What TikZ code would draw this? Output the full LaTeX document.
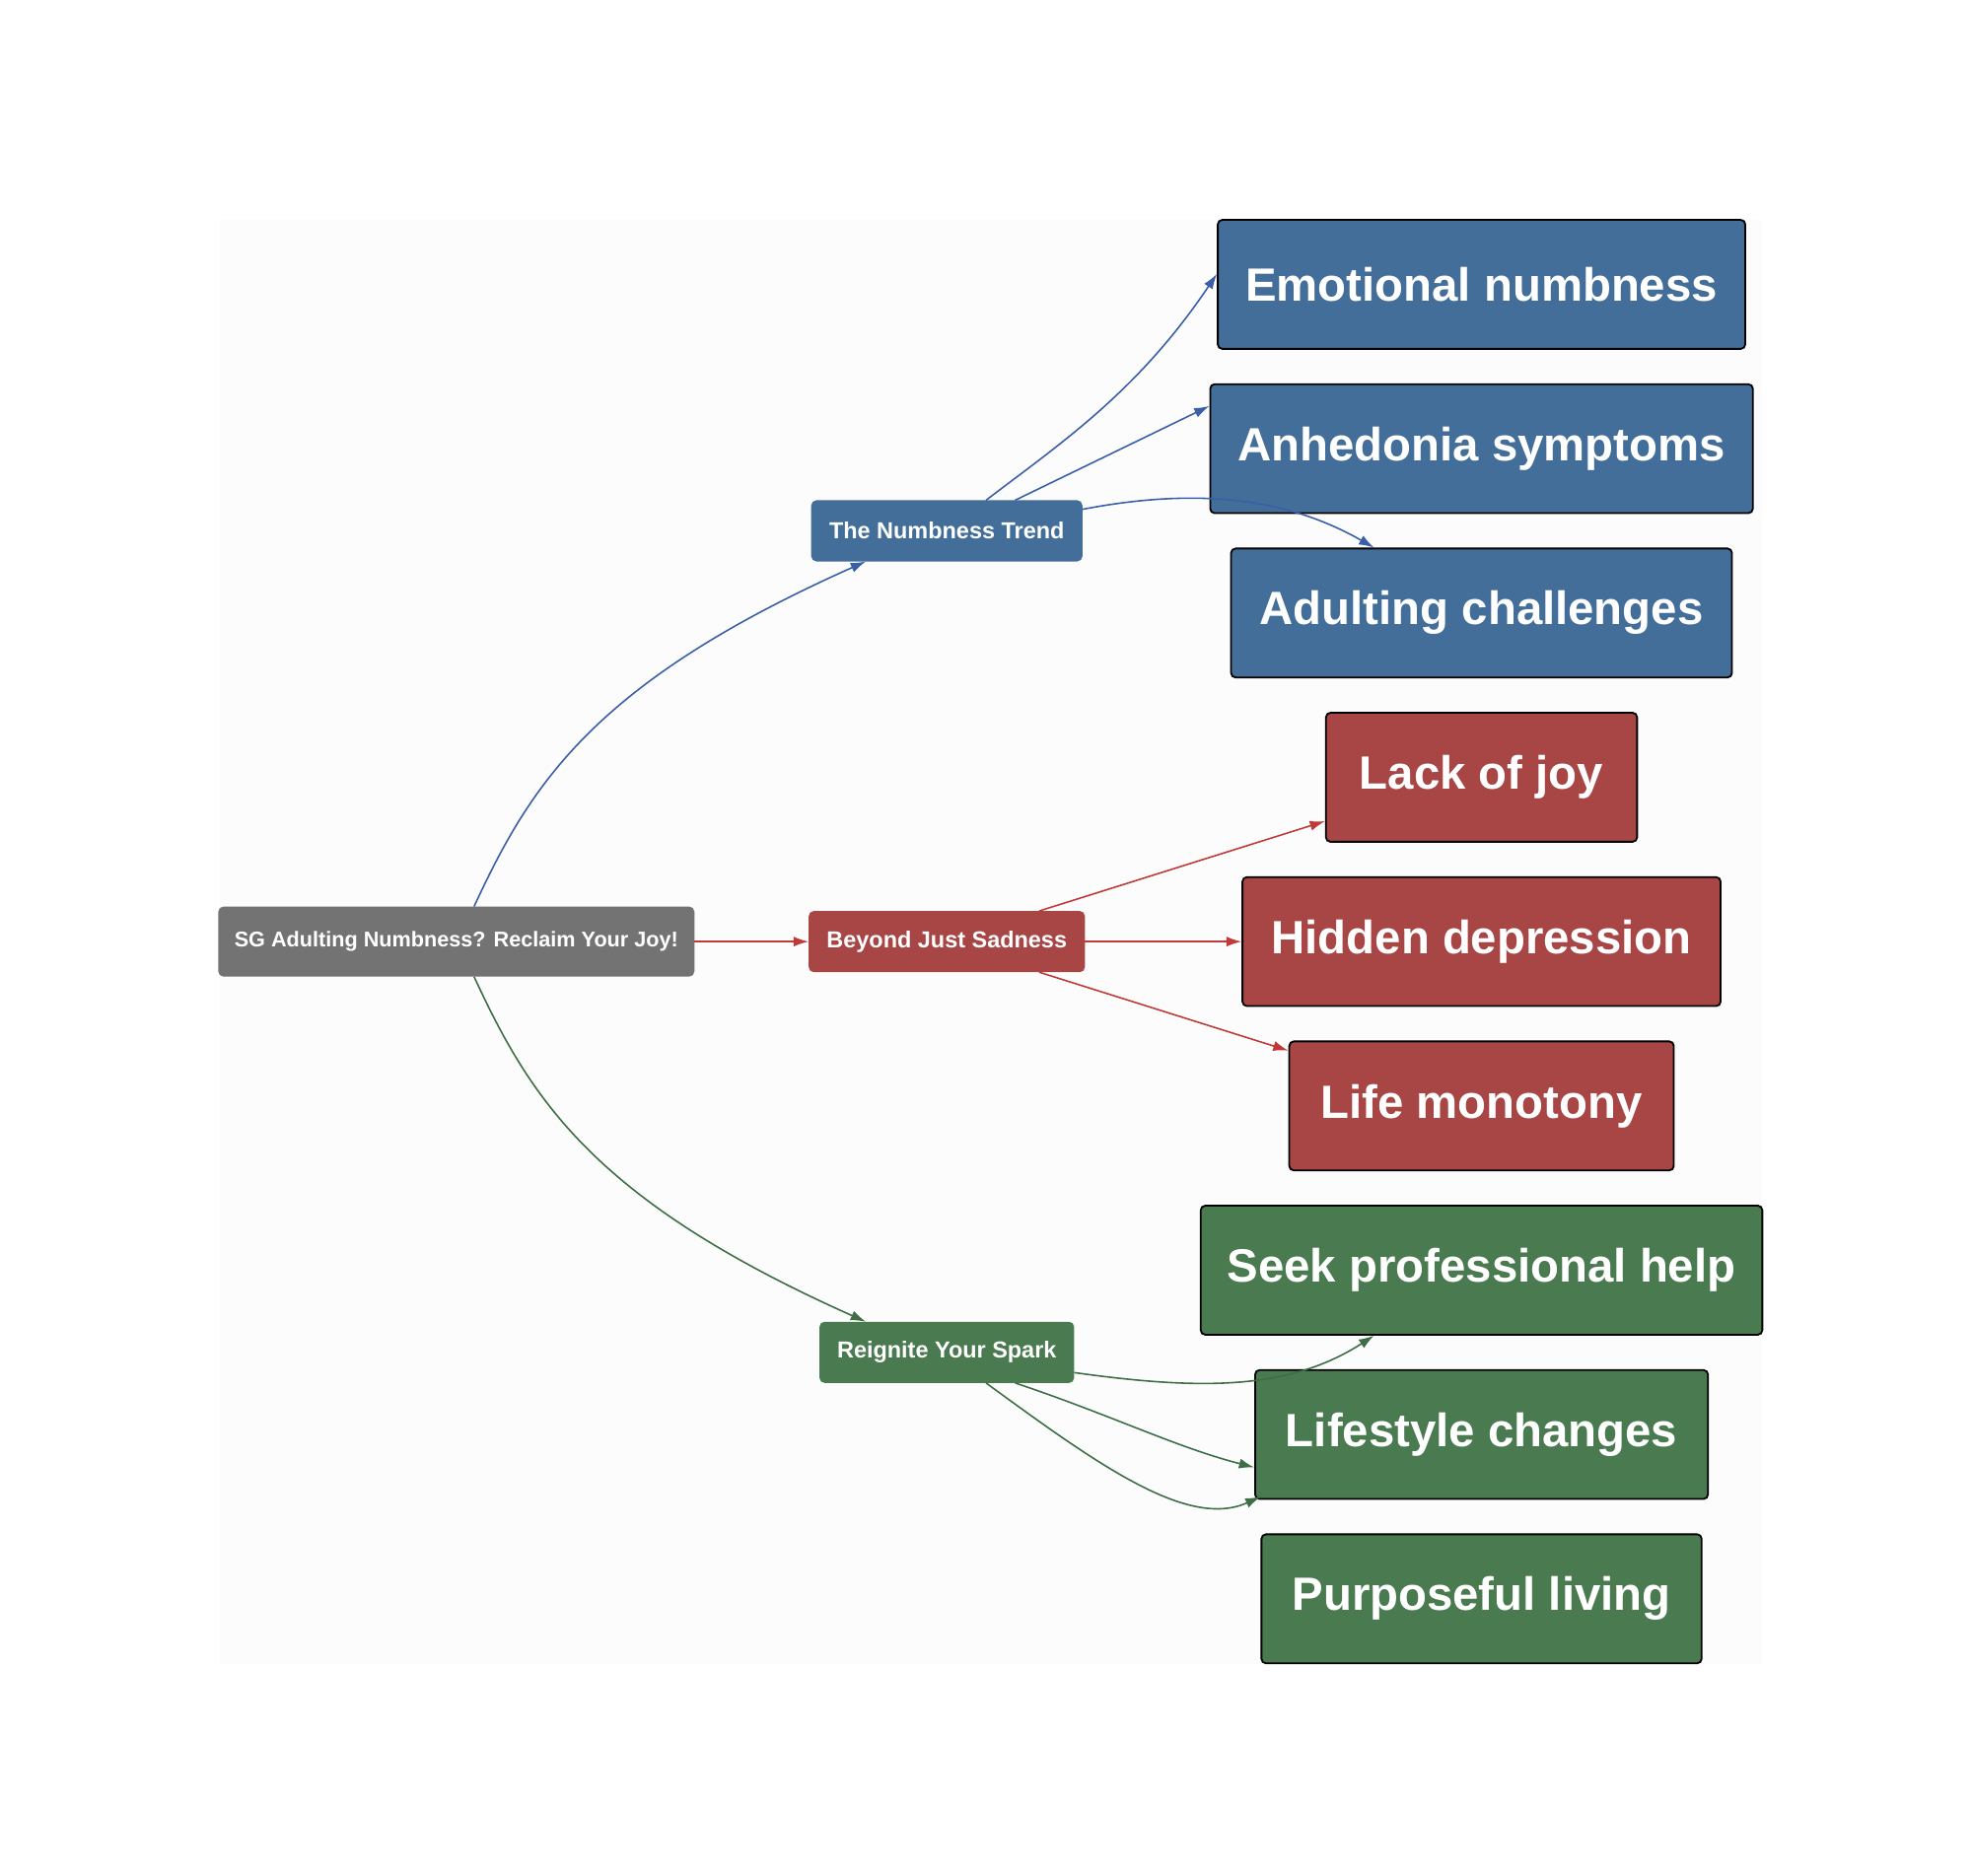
\documentclass[tikz,border=0pt]{standalone}
\usepackage{fontspec}
\setmainfont{Liberation Sans}
\usetikzlibrary{arrows.meta, positioning}
\definecolor{rootgray}{HTML}{737373}
\definecolor{numbblue}{HTML}{436E99}
\definecolor{sadred}{HTML}{A84545}
\definecolor{sparkgreen}{HTML}{4A7A4F}
\definecolor{lineblue}{HTML}{3A5FA8}
\definecolor{linered}{HTML}{C03A3A}
\definecolor{linegreen}{HTML}{3D6E45}
\tikzset{
  box/.style    = {draw=black, line width=0.4pt, rounded corners=1pt, text=white, font=\bfseries, inner sep=0pt},
  hub/.style    = {box, font=\bfseries\fontsize{5.2}{6}\selectfont, minimum height=0.47cm},
  leaf/.style   = {box, font=\bfseries\fontsize{10.5}{12}\selectfont, minimum height=1.02cm},
  link/.style   = {line width=0.35pt, -{Latex[length=1.2mm,width=0.8mm]}}
}
\begin{document}
\begin{tikzpicture}[x=0.01cm, y=-0.01cm]
\useasboundingbox (0,0) rectangle (1560,1484);
\fill[black!1] (174,174) rectangle (1394,1317);

% nodes
\node [box, fill=rootgray, draw=rootgray, font=\bfseries\fontsize{4.8}{6}\selectfont, minimum width=3.75cm, minimum height=0.54cm] at (361,745) (root) {SG Adulting Numbness? Reclaim Your Joy!};
\node [hub, fill=numbblue,   draw=numbblue,   minimum width=2.13cm] at (749,420)  (numb)  {The Numbness Trend};
\node [hub, fill=sadred,     draw=sadred,     minimum width=2.17cm] at (749,745)  (sad)   {Beyond Just Sadness};
\node [hub, fill=sparkgreen, draw=sparkgreen, minimum width=2.00cm] at (749,1070) (spark) {Reignite Your Spark};

\node [leaf, fill=numbblue,   minimum width=4.17cm] at (1172,225)  (emo)   {Emotional numbness};
\node [leaf, fill=numbblue,   minimum width=4.29cm] at (1172,355)  (anhe)  {Anhedonia symptoms};
\node [leaf, fill=numbblue,   minimum width=3.96cm] at (1172,485)  (adult) {Adulting challenges};
\node [leaf, fill=sadred,     minimum width=2.46cm] at (1172,615)  (joy)   {Lack of joy};
\node [leaf, fill=sadred,     minimum width=3.78cm] at (1172,745)  (depr)  {Hidden depression};
\node [leaf, fill=sadred,     minimum width=3.04cm] at (1172,875)  (mono)  {Life monotony};
\node [leaf, fill=sparkgreen, minimum width=4.44cm] at (1172,1005) (help)  {Seek professional help};
\node [leaf, fill=sparkgreen, minimum width=3.58cm] at (1172,1135) (life)  {Lifestyle changes};
\node [leaf, fill=sparkgreen, minimum width=3.48cm] at (1172,1265) (purp)  {Purposeful living};

% edges
\draw [link, lineblue]  ([xshift=1.4mm]root.north) .. controls (420,620) and (470,540) .. ([xshift=-6.4mm]numb.south);
\draw [link, linered]   (root) -- (sad);
\draw [link, linegreen] ([xshift=1.4mm]root.south) .. controls (420,870) and (470,950) .. ([xshift=-6.4mm]spark.north);

\draw [link, lineblue]  ([xshift=3.1mm]numb.north) .. controls (840,350) and (900,310) .. ([yshift=0.6cm]emo.south west);
\draw [link, lineblue]  ([xshift=5.4mm]numb.north) -- ([yshift=-0.18cm]anhe.north west);
\draw [link, lineblue]  ([yshift=1.7mm]numb.east) .. controls (950,385) and (1020,395) .. ([xshift=-0.85cm]adult.north);

\draw [link, linered]   ([xshift=7.3mm]sad.north) -- ([yshift=0.17cm]joy.south west);
\draw [link, linered]   (sad) -- (depr);
\draw [link, linered]   ([xshift=7.3mm]sad.south) -- ([yshift=-0.08cm]mono.north west);

\draw [link, linegreen] ([yshift=-1.6mm]spark.east) .. controls (950,1100) and (1020,1100) .. ([xshift=-0.85cm]help.south);
\draw [link, linegreen] ([xshift=5.4mm]spark.south) .. controls (880,1120) and (930,1145) .. ([yshift=-0.26cm]life.west);
\draw [link, linegreen] ([xshift=3.1mm]spark.south) .. controls (870,1160) and (940,1210) .. ([yshift=0.29cm]purp.north west);
\end{tikzpicture}
\end{document}
